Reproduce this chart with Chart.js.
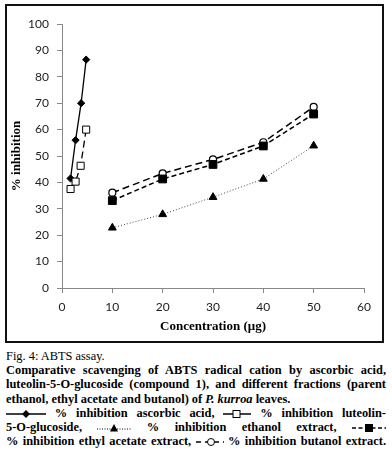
<!DOCTYPE html>
<html>
<head>
<meta charset="utf-8">
<script src="https://cdn.jsdelivr.net/npm/chart.js@4"></script>
<style>
body{margin:0;width:392px;height:453px;background:#fff;position:relative;overflow:hidden}
#box{position:absolute;left:5px;top:4px;width:375px;height:335px;border:2px solid #111}
#c{position:absolute;left:0;top:0}
#cap{position:absolute;left:6px;top:349px;width:380px;font-family:"Liberation Serif",serif;font-size:12.4px;line-height:14.2px;color:#000}
#cap div{height:14.2px;white-space:nowrap}
.j{text-align:justify;text-align-last:justify;font-weight:bold}
.b{font-weight:bold}
svg{vertical-align:middle}
</style>
</head>
<body>
<div id="box"></div>
<canvas id="c" width="392" height="345"></canvas>
<div id="cap">
  <div>Fig. 4: ABTS assay.</div>
  <div class="j">Comparative scavenging of ABTS radical cation by ascorbic acid,</div>
  <div class="j">luteolin-5-O-glucoside (compound 1), and different fractions (parent</div>
  <div class="b">ethanol, ethyl acetate and butanol) of <i>P. kurroa</i> leaves.</div>
  <div class="j"><svg width="40" height="10"><line x1="0" y1="5" x2="40" y2="5" stroke="#000" stroke-width="1.5"/><polygon points="20,1 24,5 20,9 16,5" fill="#000"/></svg> % inhibition ascorbic acid, <svg width="28" height="10"><line x1="0" y1="5" x2="28" y2="5" stroke="#000" stroke-width="1.5"/><rect x="10" y="1.5" width="7" height="7" fill="#fff" stroke="#000" stroke-width="1"/></svg> % inhibition luteolin-</div>
  <div class="j">5-O-glucoside, <svg width="34" height="10"><line x1="0" y1="6" x2="34" y2="6" stroke="#000" stroke-width="1" stroke-dasharray="1,1.5"/><polygon points="17,1 21,8.5 13,8.5" fill="#000"/></svg> % inhibition ethanol extract, <svg width="34" height="10"><line x1="0" y1="5" x2="34" y2="5" stroke="#000" stroke-width="1.5" stroke-dasharray="4,2.5"/><rect x="13" y="1" width="8" height="8" fill="#000"/></svg></div>
  <div class="j">% inhibition ethyl acetate extract, <svg width="28" height="10"><line x1="0" y1="5" x2="28" y2="5" stroke="#000" stroke-width="1.5" stroke-dasharray="5,4"/><circle cx="15" cy="5" r="3.5" fill="#fff" stroke="#000" stroke-width="1"/></svg> % inhibition butanol extract.</div>
</div>
<script>
// ascorbic acid and luteolin (low concentrations)
var ascX = [1.7, 2.7, 3.8, 4.8];
var ascY = [41.5, 56, 70, 86.5];
var lutX = [1.7, 2.7, 3.7, 4.8];
var lutY = [37.5, 40.3, 46.3, 60];
// extracts
var conc = [10, 20, 30, 40, 50];
var ethanolY = [22.8, 27.9, 34.4, 41.3, 53.9];
var ethylY = [33.1, 41.3, 46.8, 53.8, 65.9];
var butanolY = [36.1, 43.4, 48.7, 55.2, 68.6];

function pts(xs, ys){
  var out = []
  for (var i = 0; i < xs.length; i++) out.push({x: xs[i], y: ys[i]})
  return out
}

var tickFont = {family: 'Lato', size: 12}
var titleFont = {family: 'Liberation Serif', size: 13, weight: 'bold'}

var ctx = document.getElementById('c').getContext('2d');
var chart = new Chart(ctx, {
  type: 'scatter',
  data: {
    datasets: [
      {label: 'ethanol', data: pts(conc, ethanolY), showLine: true, borderColor: '#444', borderWidth: 1, borderDash: [1, 2],
       pointStyle: 'triangle', pointRadius: 4.5, pointBackgroundColor: '#000', pointBorderColor: '#000', pointBorderWidth: 1},
      {label: 'ethyl acetate', data: pts(conc, ethylY), showLine: true, borderColor: '#000', borderWidth: 1.5, borderDash: [5, 3],
       pointStyle: 'rect', pointRadius: 5.5, pointBackgroundColor: '#000', pointBorderColor: '#000', pointBorderWidth: 1},
      {label: 'butanol', data: pts(conc, butanolY), showLine: true, borderColor: '#000', borderWidth: 1.5, borderDash: [7, 4],
       pointStyle: 'circle', pointRadius: 3.5, pointBackgroundColor: '#fff', pointBorderColor: '#000', pointBorderWidth: 1.2},
      {label: 'luteolin', data: pts(lutX, lutY), showLine: true, borderColor: '#000', borderWidth: 1.3, borderDash: [7, 4],
       pointStyle: 'rect', pointRadius: 5, pointBackgroundColor: '#fff', pointBorderColor: '#000', pointBorderWidth: 1},
      {label: 'ascorbic', data: pts(ascX, ascY), showLine: true, borderColor: '#000', borderWidth: 1.3,
       pointStyle: 'rectRot', pointRadius: 3.6, pointBackgroundColor: '#000', pointBorderColor: '#000', pointBorderWidth: 1}
    ]
  },
  options: {
    responsive: false,
    animation: false,
    layout: {padding: {top: 24, right: 28, left: 0, bottom: 0}},
    plugins: {legend: {display: false}, tooltip: {enabled: false}},
    scales: {
      x: {
        type: 'linear', min: 0, max: 60,
        ticks: {stepSize: 10, font: tickFont, color: '#222', padding: 7, maxRotation: 0},
        grid: {drawOnChartArea: false, drawTicks: true, tickLength: 5, color: '#888'},
        border: {color: '#888', width: 1},
        title: {display: true, text: 'Concentration (μg)', font: titleFont, color: '#000', padding: {top: 0, bottom: 11}},
        afterFit: function(s){ s.height = 57 }
      },
      y: {
        min: 0, max: 100,
        ticks: {stepSize: 10, font: tickFont, color: '#222', padding: 8},
        grid: {drawOnChartArea: false, drawTicks: true, tickLength: 5, color: '#888'},
        border: {color: '#888', width: 1},
        title: {display: true, text: '% inhibition', font: titleFont, color: '#000', padding: {top: 9, bottom: 0}},
        afterFit: function(s){ s.width = 62 }
      }
    }
  }
});
</script>
</body>
</html>
